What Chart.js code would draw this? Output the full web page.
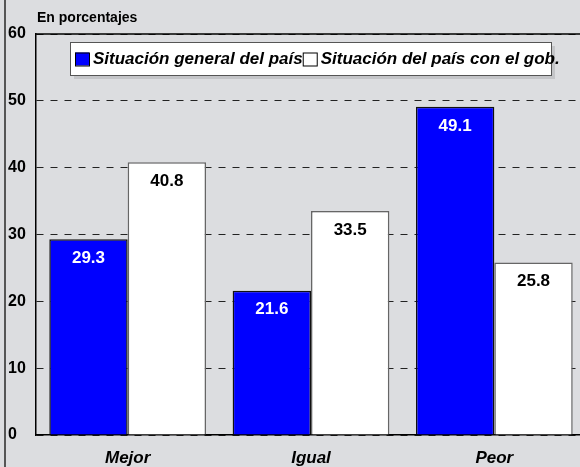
<!DOCTYPE html>
<html>
<head>
<meta charset="utf-8">
<script src="https://cdn.jsdelivr.net/npm/chart.js@4"></script>
<style>
  html, body { margin: 0; padding: 0; background: #dcdde0; overflow: hidden; }
  #wrap { position: relative; width: 586px; height: 467px; }
</style>
</head>
<body>
<div id="wrap"><canvas id="myBarChart"></canvas></div>
<script>
var categories = ["Mejor", "Igual", "Peor"];
var serieGeneral = [29.3, 21.6, 49.1];
var serieGobierno = [40.8, 33.5, 25.8];
var seriesNames = ["Situación general del país", "Situación del país con el gob."];
var yTicks = [0, 10, 20, 30, 40, 50, 60];

var FONT = "'Liberation Sans', Arial, sans-serif";

// valores dentro de cada barra, cerca del borde superior
var valueLabels = {
    id: 'valueLabels',
    afterDatasetsDraw: function (chart) {
        var ctx = chart.ctx;
        ctx.save();
        ctx.font = "bold 17px " + FONT;
        ctx.textAlign = "center";
        ctx.textBaseline = "middle";
        chart.data.datasets.forEach(function (ds, i) {
            var meta = chart.getDatasetMeta(i);
            meta.data.forEach(function (bar, j) {
                ctx.fillStyle = i === 0 ? "#ffffff" : "#000000";
                ctx.fillText(ds.data[j].toFixed(1), bar.x, bar.y + 19);
            });
        });
        ctx.restore();
    }
};

// fondo, título, marco superior y leyenda dentro del área
var frame = {
    id: 'frame',
    beforeDraw: function (chart) {
        var ctx = chart.ctx;
        ctx.save();
        ctx.fillStyle = "#dcdde0";
        ctx.fillRect(0, 0, chart.width, chart.height);
        ctx.fillStyle = "#000";
        ctx.font = "bold 14px " + FONT;
        ctx.textBaseline = "middle";
        ctx.fillText("En porcentajes", 37, 18);
        ctx.restore();
    },
    afterDraw: function (chart) {
        var ctx = chart.ctx;
        var a = chart.chartArea;
        ctx.save();
        ctx.strokeStyle = "#000";
        ctx.lineWidth = 1.5;
        ctx.beginPath();
        ctx.moveTo(a.left, a.top);
        ctx.lineTo(a.right, a.top);
        ctx.stroke();
        // borde izquierdo exterior
        ctx.strokeStyle = "#555";
        ctx.lineWidth = 2;
        ctx.beginPath();
        ctx.moveTo(5, 0);
        ctx.lineTo(5, chart.height);
        ctx.stroke();

        // leyenda
        var lx = 70, ly = 42, lw = 481, lh = 33;
        ctx.fillStyle = "#c4c5c8";
        ctx.fillRect(lx + 4, ly + 4, lw, lh);
        ctx.fillStyle = "#fff";
        ctx.fillRect(lx, ly, lw, lh);
        ctx.strokeStyle = "#555";
        ctx.lineWidth = 1;
        ctx.strokeRect(lx + 0.5, ly + 0.5, lw, lh);

        ctx.font = "italic bold 17px " + FONT;
        ctx.textBaseline = "middle";
        var cy = ly + lh / 2 + 1;
        var x = lx + 5;
        chart.data.datasets.forEach(function (ds) {
            ctx.fillStyle = ds.backgroundColor;
            ctx.fillRect(x, cy - 7, 14, 13);
            ctx.strokeStyle = "#000";
            ctx.strokeRect(x + 0.5, cy - 6.5, 14, 13);
            x += 18;
            ctx.fillStyle = "#000";
            ctx.fillText(ds.label, x, cy);
            x += ctx.measureText(ds.label).width;
        });
        ctx.restore();
    }
};

var ctx = document.getElementById("myBarChart");

new Chart(ctx, {
    type: 'bar',
    data: {
        labels: categories,
        datasets: [{
            label: seriesNames[0],
            data: serieGeneral,
            backgroundColor: "#0000ff",
            borderColor: "#111111",
            borderWidth: 1.5,
            barPercentage: 1,
            categoryPercentage: 0.855
        }, {
            label: seriesNames[1],
            data: serieGobierno,
            backgroundColor: "#ffffff",
            borderColor: "#666666",
            borderWidth: 1.5,
            barPercentage: 1,
            categoryPercentage: 0.855
        }]
    },
    options: {
        responsive: true,
        maintainAspectRatio: false,
        animation: false,
        layout: {
            padding: { left: 8, right: 0, top: 34, bottom: 0 }
        },
        plugins: {
            legend: { display: false },
            tooltip: { enabled: false }
        },
        scales: {
            x: {
                grid: { display: false },
                border: { color: "#000", width: 1.5 },
                afterFit: function (axis) { axis.height = 32; },
                ticks: {
                    color: "#000",
                    font: { family: FONT, size: 17, weight: 'bold', style: 'italic' },
                    padding: 5
                }
            },
            y: {
                min: 0,
                max: 60,
                afterBuildTicks: function (axis) {
                    axis.ticks = yTicks.map(function (v) { return { value: v }; });
                },
                afterFit: function (axis) { axis.width = 28; },
                border: { color: "#000", width: 1.5, dash: [7, 7] },
                grid: {
                    color: "#222",
                    lineWidth: 1,
                    drawTicks: false
                },
                ticks: {
                    color: "#000",
                    crossAlign: 'far',
                    padding: 4,
                    font: { family: FONT, size: 16, weight: 'bold' }
                }
            }
        }
    },
    plugins: [frame, valueLabels]
});
</script>
</body>
</html>
